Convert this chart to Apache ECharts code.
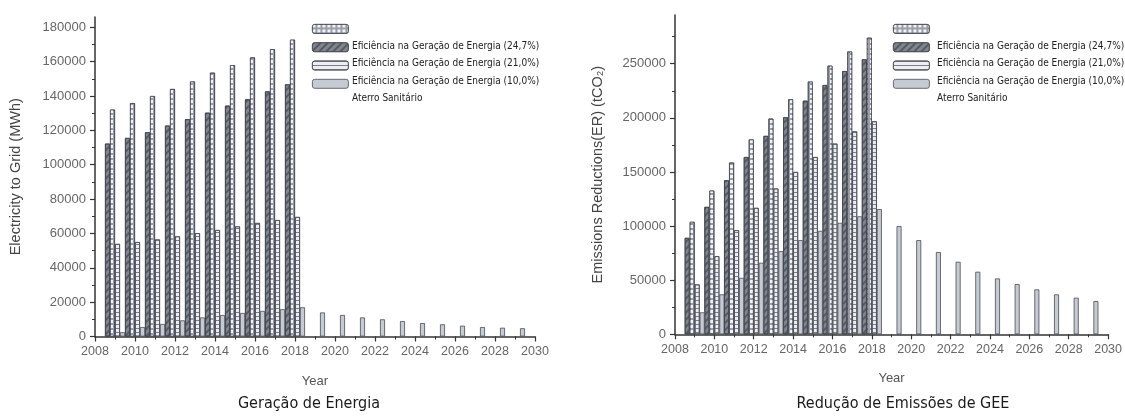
<!DOCTYPE html>
<html>
<head>
<meta charset="utf-8">
<script src="https://cdn.jsdelivr.net/npm/echarts@6/dist/echarts.min.js"></script>
<style>
  html, body { margin: 0; padding: 0; background: #fff; }
  #chart { width: 1125px; height: 416px; }
</style>
</head>
<body>
<div id="chart"></div>
<script>
// Years with all four scenarios, and the landfill-only tail
const scenarioYears = [2009, 2010, 2011, 2012, 2013, 2014, 2015, 2016, 2017, 2018];
const landfillYears = [2009, 2010, 2011, 2012, 2013, 2014, 2015, 2016, 2017, 2018,
                       2019, 2020, 2021, 2022, 2023, 2024, 2025, 2026, 2027, 2028, 2029];

// Tick labels
const yearTicks = [2008, 2010, 2012, 2014, 2016, 2018, 2020, 2022, 2024, 2026, 2028, 2030];
const energyTicks = [0, 20000, 40000, 60000, 80000, 100000, 120000, 140000, 160000, 180000];
const emissionTicks = [0, 50000, 100000, 150000, 200000, 250000];

// Series names
const nameEff247 = 'Eficiência na Geração de Energia (24,7%)';
const nameEff210 = 'Eficiência na Geração de Energia (21,0%)';
const nameEff100 = 'Eficiência na Geração de Energia (10,0%)';
const nameLandfill = 'Aterro Sanitário';
const legendNames = [nameEff247, nameEff210, nameEff100, nameLandfill];

// Electricity to grid (MWh)
const energyEff247 = [132100, 135900, 140000, 144100, 148500, 153600, 158000, 162500, 167300, 172800];
const energyEff210 = [112300, 115600, 118900, 122800, 126500, 130300, 134400, 138100, 142700, 146800];
const energyEff100 = [53900, 55000, 56500, 58300, 60200, 62000, 64100, 66100, 67800, 69600];
const energyLandfill = [2500, 5500, 7300, 9400, 11100, 12500, 13700, 14900, 15900, 17000,
                        14000, 12500, 11100, 10000, 9000, 7800, 7100, 6300, 5500, 5100, 4800];

// Emission reductions (tCO2)
const emissionEff247 = [103900, 132800, 158700, 180000, 199300, 217100, 233500, 248200, 261300, 274000];
const emissionEff210 = [89100, 117700, 142300, 163800, 183300, 200500, 215800, 230300, 243200, 254000];
const emissionEff100 = [46100, 72200, 96200, 116800, 134700, 150000, 163800, 176200, 187500, 196800];
const emissionLandfill = [20300, 36900, 52200, 66100, 76800, 87000, 95600, 103000, 109000, 115700,
                          100000, 87000, 76000, 67000, 57800, 51600, 46400, 41500, 36900, 33800, 30700];

const pairs = (xs, vs) => xs.map((x, i) => [x, vs[i]]);

const narrowFont = "'Liberation Sans Narrow', 'DejaVu Sans Condensed', 'Roboto', sans-serif";
const labelFont = "'Liberation Sans', Arial, sans-serif";

// Hatch styles
const styleEff247 = {
  color: '#9a9ea8', borderColor: '#4a4d55', borderWidth: 0.8,
  decal: { symbol: 'rect', symbolSize: 1, color: '#f1f2f5', dashArrayX: [2.2, 1.4], dashArrayY: [2.2, 1.4] }
};
const styleEff210 = {
  color: '#80858f', borderColor: '#3f424a', borderWidth: 0.8,
  decal: { symbol: 'rect', symbolSize: 1, color: '#565a63', dashArrayX: [1, 0], dashArrayY: [1.4, 2.4], rotation: -Math.PI / 4 }
};
const styleEff100 = {
  color: '#eceef2', borderColor: '#4a4d55', borderWidth: 0.8,
  decal: { symbol: 'rect', symbolSize: 1, color: '#7a7e88', dashArrayX: [1, 0], dashArrayY: [1, 2.2] }
};
const styleLandfill = {
  color: '#c6cad3', borderColor: '#4a4d55', borderWidth: 0.8
};

function barSeries(name, style, xs, vs, idx) {
  return {
    type: 'bar', name: name, xAxisIndex: idx, yAxisIndex: idx,
    data: pairs(xs, vs), barWidth: 5, barGap: '0%',
    itemStyle: style, emphasis: { disabled: true }
  };
}

function xAxisFor(idx) {
  return {
    gridIndex: idx, type: 'value', min: 2008, max: 2030, interval: 2,
    name: 'Year', nameLocation: 'middle', nameGap: 38,
    nameTextStyle: { color: '#555', fontSize: 13, fontFamily: labelFont },
    axisLine: { show: true, onZero: false, lineStyle: { color: '#333', width: 1.5 } },
    axisTick: { show: true, length: 5, lineStyle: { color: '#333', width: 1.2 }, customValues: yearTicks },
    minorTick: { show: true, splitNumber: 2, length: 3, lineStyle: { color: '#333' } },
    splitLine: { show: false },
    axisLabel: { customValues: yearTicks, formatter: v => String(v), color: '#666', fontSize: 12.5, margin: 9, fontFamily: labelFont }
  };
}

function yAxisFor(idx, max, interval, ticks, split, name, gap) {
  return {
    gridIndex: idx, type: 'value', min: 0, max: max, interval: interval,
    name: name, nameLocation: 'middle', nameGap: gap,
    nameTextStyle: { color: '#444', fontSize: 14.5, fontFamily: labelFont },
    axisLine: { show: true, lineStyle: { color: '#333', width: 1.5 } },
    axisTick: { show: true, length: 5, lineStyle: { color: '#333', width: 1.2 }, customValues: ticks },
    minorTick: { show: true, splitNumber: split, length: 3, lineStyle: { color: '#333' } },
    splitLine: { show: false },
    axisLabel: { customValues: ticks, formatter: v => String(v), color: '#666', fontSize: 13, margin: 9, fontFamily: labelFont }
  };
}

// Swatches sit one row above their captions, so icons and captions are two stacked legends
function legendPair(iconLeft, textLeft) {
  return [
    {
      orient: 'vertical', left: iconLeft, top: 19, data: legendNames,
      itemWidth: 36, itemHeight: 9, itemGap: 8.5, selectedMode: false,
      formatter: () => '', textStyle: { fontSize: 1, lineHeight: 1 },
      itemStyle: { borderWidth: 0.8, borderColor: '#4a4d55' }
    },
    {
      orient: 'vertical', left: textLeft, top: 35, data: legendNames,
      icon: 'none', itemWidth: 0, itemHeight: 0, itemGap: 5.5, selectedMode: false,
      textStyle: { fontSize: 10, lineHeight: 12, color: '#222', fontFamily: narrowFont }
    }
  ];
}

const chart = echarts.init(document.getElementById('chart'), null, { renderer: 'canvas' });

chart.setOption({
  backgroundColor: '#fff',
  animation: false,
  grid: [
    { left: 95, top: 17, width: 440, height: 319.5 },
    { left: 675, top: 15, width: 435, height: 319.3 }
  ],
  xAxis: [xAxisFor(0), xAxisFor(1)],
  yAxis: [
    yAxisFor(0, 186000, 20000, energyTicks, 2, 'Electricity to Grid (MWh)', 72),
    yAxisFor(1, 295000, 50000, emissionTicks, 2, 'Emissions Reductions(ER) (tCO₂)', 70)
  ],
  legend: legendPair(307, 342).concat(legendPair(888, 927)),
  series: [
    barSeries(nameEff210, styleEff210, scenarioYears, energyEff210, 0),
    barSeries(nameEff247, styleEff247, scenarioYears, energyEff247, 0),
    barSeries(nameEff100, styleEff100, scenarioYears, energyEff100, 0),
    barSeries(nameLandfill, styleLandfill, landfillYears, energyLandfill, 0),
    barSeries(nameEff210, styleEff210, scenarioYears, emissionEff210, 1),
    barSeries(nameEff247, styleEff247, scenarioYears, emissionEff247, 1),
    barSeries(nameEff100, styleEff100, scenarioYears, emissionEff100, 1),
    barSeries(nameLandfill, styleLandfill, landfillYears, emissionLandfill, 1)
  ],
  graphic: [
    { type: 'text', x: 309, y: 404, style: { text: 'Geração de Energia', align: 'center', verticalAlign: 'middle', fontSize: 16, fontWeight: 500, fill: '#1a1a1a', fontFamily: narrowFont } },
    { type: 'text', x: 903, y: 404, style: { text: 'Redução de Emissões de GEE', align: 'center', verticalAlign: 'middle', fontSize: 16, fontWeight: 500, fill: '#1a1a1a', fontFamily: narrowFont } }
  ]
});
</script>
</body>
</html>
